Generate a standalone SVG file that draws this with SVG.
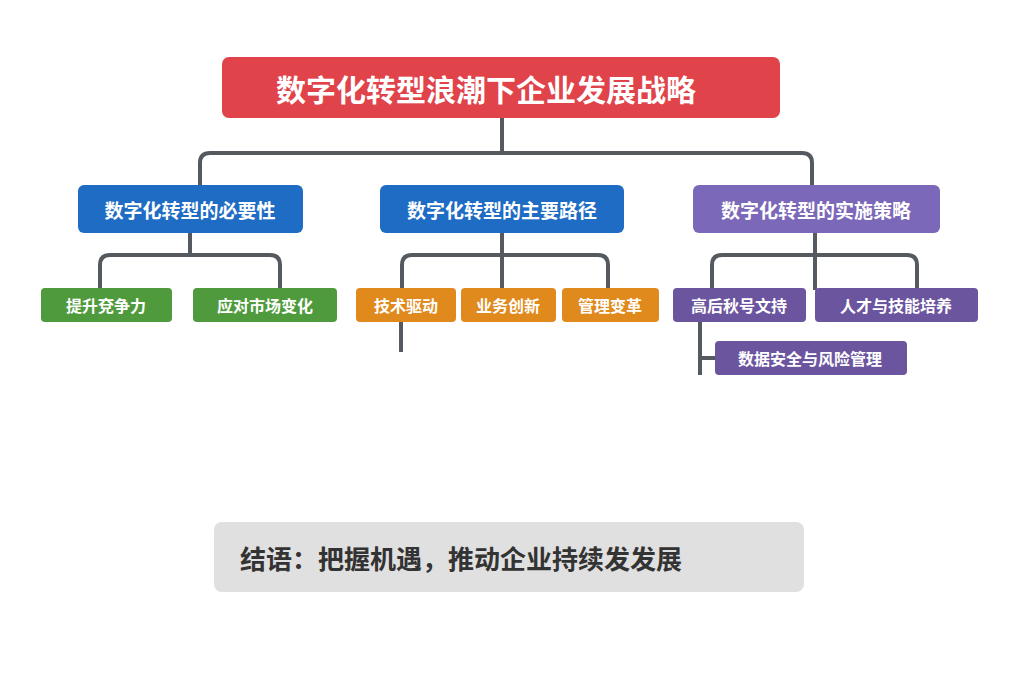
<svg xmlns="http://www.w3.org/2000/svg" width="1024" height="683" viewBox="0 0 1024 683">
<style>
text{font-family:"Noto Sans CJK SC","Noto Sans",sans-serif;font-weight:bold;fill:#fff;text-anchor:middle;dominant-baseline:central}
.c{fill:none;stroke:#555a60;stroke-width:4;stroke-linejoin:round}
.l2{font-size:19px}.l3{font-size:16px}
</style>
<rect width="1024" height="683" fill="#fff"/>
<g id="connectors">
<path class="c" d="M502 118V153M200 185V163Q200 153 210 153H802Q812 153 812 163V185"/>
<path class="c" d="M190 233V255M100 290V265Q100 255 110 255H270Q280 255 280 265V290"/>
<path class="c" d="M502 233V290M402 290V265Q402 255 412 255H598Q608 255 608 265V290"/>
<path class="c" d="M815 233V290M712 290V265Q712 255 722 255H907Q917 255 917 265V290"/>
<path class="c" d="M401 322V352M700 322V375M700 358H716"/>
</g>
<g id="title"><rect x="222" y="57" width="558" height="61" rx="7" fill="#e0434a"/><text x="486" y="88" style="font-size:30px">数字化转型浪潮下企业发展战略</text></g>
<g id="n1"><rect x="78" y="185" width="225" height="48" rx="6" fill="#1f6cc4"/><text class="l2" x="190" y="209">数字化转型的必要性</text></g>
<g id="n2"><rect x="380" y="185" width="244" height="48" rx="6" fill="#1f6cc4"/><text class="l2" x="502" y="209">数字化转型的主要路径</text></g>
<g id="n3"><rect x="693" y="185" width="247" height="48" rx="6" fill="#7b68b8"/><text class="l2" x="816" y="209">数字化转型的实施策略</text></g>
<g id="n11"><rect x="41" y="288" width="131" height="34" rx="4" fill="#4f9a3c"/><text class="l3" x="106" y="305">提升兗争力</text></g>
<g id="n12"><rect x="193" y="288" width="144" height="34" rx="4" fill="#4f9a3c"/><text class="l3" x="265" y="305">应对市场变化</text></g>
<g id="n21"><rect x="356" y="288" width="100" height="34" rx="4" fill="#e08a1e"/><text class="l3" x="406" y="305">技术驱动</text></g>
<g id="n22"><rect x="461" y="288" width="95" height="34" rx="4" fill="#e08a1e"/><text class="l3" x="508" y="305">业务创新</text></g>
<g id="n23"><rect x="562" y="288" width="97" height="34" rx="4" fill="#e08a1e"/><text class="l3" x="610" y="305">管理变革</text></g>
<g id="n31"><rect x="673" y="288" width="133" height="34" rx="4" fill="#6b559f"/><text class="l3" x="739" y="305">高后秋号文持</text></g>
<g id="n32"><rect x="815" y="288" width="163" height="34" rx="4" fill="#6b559f"/><text class="l3" x="896" y="305">人才与技能培养</text></g>
<g id="n33"><rect x="715" y="341" width="192" height="34" rx="4" fill="#6b559f"/><text class="l3" x="810" y="358">数据安全与风险管理</text></g>
<g id="conclusion"><rect x="214" y="522" width="590" height="70" rx="8" fill="#e0e0e0"/><text x="240" y="557" style="font-size:26px;fill:#333;text-anchor:start">结语：把握机遇，推动企业持续发发展</text></g>
</svg>
